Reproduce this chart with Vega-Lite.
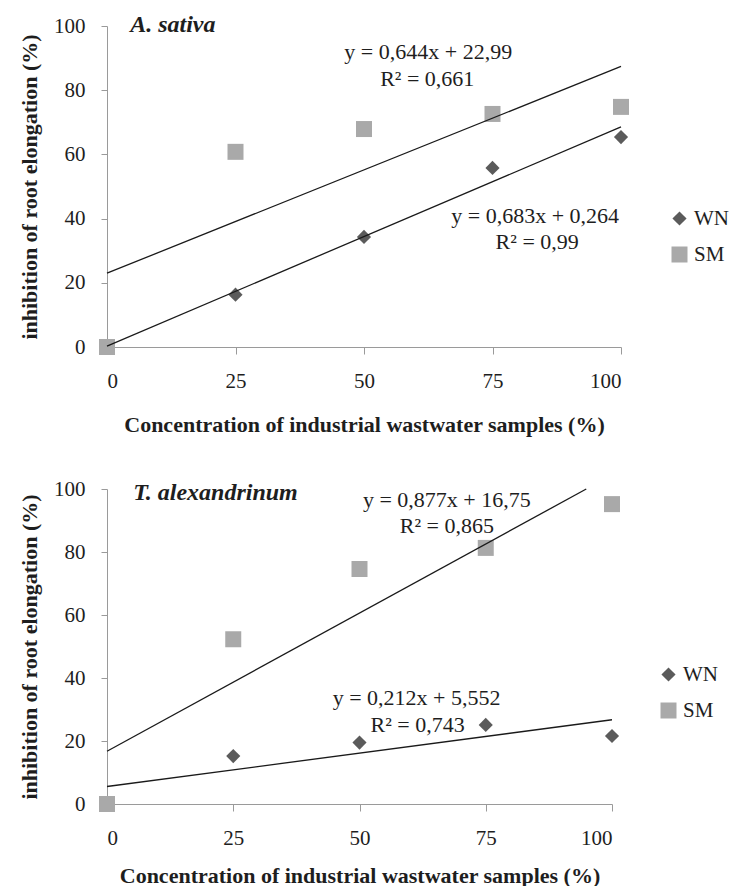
{
  "$schema": "https://vega.github.io/schema/vega-lite/v6.json",
  "background": "white",
  "padding": {"left": 18, "top": 13, "right": 0, "bottom": 0},
  "config": {
    "font": "Times New Roman, Liberation Serif, DejaVu Serif, serif",
    "view": {"stroke": null},
    "axis": {
      "grid": false,
      "domainColor": "#9a9a9a",
      "tickColor": "#9a9a9a",
      "labelFont": "Times New Roman, Liberation Serif, DejaVu Serif, serif",
      "labelFontSize": 21,
      "labelColor": "#1e1e1e",
      "titleFont": "Times New Roman, Liberation Serif, DejaVu Serif, serif",
      "titleFontSize": 22,
      "titleFontWeight": "bold",
      "titleColor": "#1e1e1e"
    },
    "axisX": {"tickSize": 7, "labelPadding": 16, "titlePadding": 23},
    "axisY": {"tickSize": 6, "labelPadding": 16, "titlePadding": 12},
    "legend": {"labelFont": "Times New Roman, Liberation Serif, DejaVu Serif, serif", "labelFontSize": 21, "labelColor": "#1e1e1e"}
  },
  "datasets": {
    "points": [
      {"panel": "A", "series": "WN", "x": 0, "y": 0},
      {"panel": "A", "series": "WN", "x": 25, "y": 16.3},
      {"panel": "A", "series": "WN", "x": 50, "y": 34.3},
      {"panel": "A", "series": "WN", "x": 75, "y": 55.8},
      {"panel": "A", "series": "WN", "x": 100, "y": 65.4},
      {"panel": "A", "series": "SM", "x": 0, "y": 0},
      {"panel": "A", "series": "SM", "x": 25, "y": 60.8},
      {"panel": "A", "series": "SM", "x": 50, "y": 67.9},
      {"panel": "A", "series": "SM", "x": 75, "y": 72.6},
      {"panel": "A", "series": "SM", "x": 100, "y": 74.8},
      {"panel": "T", "series": "WN", "x": 0, "y": 0},
      {"panel": "T", "series": "WN", "x": 25, "y": 15.2},
      {"panel": "T", "series": "WN", "x": 50, "y": 19.5},
      {"panel": "T", "series": "WN", "x": 75, "y": 25.1},
      {"panel": "T", "series": "WN", "x": 100, "y": 21.6},
      {"panel": "T", "series": "SM", "x": 0, "y": 0},
      {"panel": "T", "series": "SM", "x": 25, "y": 52.3},
      {"panel": "T", "series": "SM", "x": 50, "y": 74.6},
      {"panel": "T", "series": "SM", "x": 75, "y": 81.3},
      {"panel": "T", "series": "SM", "x": 100, "y": 95.2}
    ],
    "trends": [
      {"panel": "A", "series": "WN", "x": 0, "y": 0.264},
      {"panel": "A", "series": "WN", "x": 100, "y": 68.56},
      {"panel": "A", "series": "SM", "x": 0, "y": 22.99},
      {"panel": "A", "series": "SM", "x": 100, "y": 87.39},
      {"panel": "T", "series": "WN", "x": 0, "y": 5.552},
      {"panel": "T", "series": "WN", "x": 100, "y": 26.75},
      {"panel": "T", "series": "SM", "x": 0, "y": 16.75},
      {"panel": "T", "series": "SM", "x": 94.9, "y": 100}
    ],
    "equations": [
      {"panel": "A", "text": "y = 0,644x + 22,99", "x": 62.5, "y": 91.9},
      {"panel": "A", "text": "R² = 0,661", "x": 62.3, "y": 83.5},
      {"panel": "A", "text": "y = 0,683x + 0,264", "x": 83.3, "y": 40.8},
      {"panel": "A", "text": "R² = 0,99", "x": 83.7, "y": 32.7},
      {"panel": "T", "text": "y = 0,877x + 16,75", "x": 67.3, "y": 96.5},
      {"panel": "T", "text": "R² = 0,865", "x": 67.3, "y": 88.3},
      {"panel": "T", "text": "y = 0,212x + 5,552", "x": 61.3, "y": 33.7},
      {"panel": "T", "text": "R² = 0,743", "x": 61.5, "y": 25.1}
    ],
    "species": [
      {"panel": "A", "text": "A. sativa", "x": 4.5, "y": 100.3},
      {"panel": "T", "text": "T. alexandrinum", "x": 5.2, "y": 98.7}
    ]
  },
  "resolve": {"legend": {"color": "independent", "shape": "independent", "size": "independent"}},
  "spacing": 43,
  "vconcat": [
    {
      "width": 514,
      "height": 321,
      "layer": [
        {
          "data": {"name": "points"},
          "transform": [{"filter": "datum.panel == 'A'"}],
          "mark": {"type": "point", "filled": true, "opacity": 1},
          "encoding": {
            "x": {"field": "x", "type": "quantitative", "scale": {"domain": [0, 100], "nice": false}, "axis": {"values": [0, 25, 50, 75, 100], "title": "Concentration of industrial wastwater samples (%)"}},
            "y": {"field": "y", "type": "quantitative", "scale": {"domain": [0, 100], "nice": false}, "axis": {"values": [0, 20, 40, 60, 80, 100], "title": "inhibition of root elongation (%)"}},
            "color": {"field": "series", "type": "nominal", "scale": {"domain": ["WN", "SM"], "range": ["#5b5b5b", "#a9a9a9"]}, "legend": {"title": null, "orient": "none", "legendX": 562, "legendY": 182, "symbolSize": 130, "rowPadding": 14, "padding": 0, "labelOffset": 4}},
            "shape": {"field": "series", "type": "nominal", "scale": {"domain": ["WN", "SM"], "range": ["diamond", "square"]}, "legend": {"title": null, "orient": "none", "legendX": 562, "legendY": 182, "symbolSize": 130, "rowPadding": 14, "padding": 0, "labelOffset": 4}},
            "size": {"field": "series", "type": "nominal", "scale": {"domain": ["WN", "SM"], "range": [200, 256]}, "legend": null}
          }
        },
        {
          "data": {"name": "trends"},
          "transform": [{"filter": "datum.panel == 'A'"}],
          "mark": {"type": "line", "color": "#1a1a1a", "strokeWidth": 1.3},
          "encoding": {
            "x": {"field": "x", "type": "quantitative"},
            "y": {"field": "y", "type": "quantitative"},
            "detail": {"field": "series"}
          }
        },
        {
          "data": {"name": "equations"},
          "transform": [{"filter": "datum.panel == 'A'"}],
          "mark": {"type": "text", "font": "Times New Roman, Liberation Serif, DejaVu Serif, serif", "fontSize": 22, "color": "#1e1e1e", "align": "center", "baseline": "middle"},
          "encoding": {
            "x": {"field": "x", "type": "quantitative"},
            "y": {"field": "y", "type": "quantitative"},
            "text": {"field": "text"}
          }
        },
        {
          "data": {"name": "species"},
          "transform": [{"filter": "datum.panel == 'A'"}],
          "mark": {"type": "text", "font": "Times New Roman, Liberation Serif, DejaVu Serif, serif", "fontSize": 24, "fontWeight": "bold", "fontStyle": "italic", "color": "#1e1e1e", "align": "left", "baseline": "middle"},
          "encoding": {
            "x": {"field": "x", "type": "quantitative"},
            "y": {"field": "y", "type": "quantitative"},
            "text": {"field": "text"}
          }
        }
      ]
    },
    {
      "width": 505,
      "height": 315,
      "layer": [
        {
          "data": {"name": "points"},
          "transform": [{"filter": "datum.panel == 'T'"}],
          "mark": {"type": "point", "filled": true, "opacity": 1},
          "encoding": {
            "x": {"field": "x", "type": "quantitative", "scale": {"domain": [0, 100], "nice": false}, "axis": {"values": [0, 25, 50, 75, 100], "title": "Concentration of industrial wastwater samples (%)", "titlePadding": 17}},
            "y": {"field": "y", "type": "quantitative", "scale": {"domain": [0, 100], "nice": false}, "axis": {"values": [0, 20, 40, 60, 80, 100], "title": "inhibition of root elongation (%)"}},
            "color": {"field": "series", "type": "nominal", "scale": {"domain": ["WN", "SM"], "range": ["#5b5b5b", "#a9a9a9"]}, "legend": {"title": null, "orient": "none", "legendX": 551, "legendY": 175, "symbolSize": 130, "rowPadding": 14, "padding": 0, "labelOffset": 4}},
            "shape": {"field": "series", "type": "nominal", "scale": {"domain": ["WN", "SM"], "range": ["diamond", "square"]}, "legend": {"title": null, "orient": "none", "legendX": 551, "legendY": 175, "symbolSize": 130, "rowPadding": 14, "padding": 0, "labelOffset": 4}},
            "size": {"field": "series", "type": "nominal", "scale": {"domain": ["WN", "SM"], "range": [200, 256]}, "legend": null}
          }
        },
        {
          "data": {"name": "trends"},
          "transform": [{"filter": "datum.panel == 'T'"}],
          "mark": {"type": "line", "color": "#1a1a1a", "strokeWidth": 1.3},
          "encoding": {
            "x": {"field": "x", "type": "quantitative"},
            "y": {"field": "y", "type": "quantitative"},
            "detail": {"field": "series"}
          }
        },
        {
          "data": {"name": "equations"},
          "transform": [{"filter": "datum.panel == 'T'"}],
          "mark": {"type": "text", "font": "Times New Roman, Liberation Serif, DejaVu Serif, serif", "fontSize": 22, "color": "#1e1e1e", "align": "center", "baseline": "middle"},
          "encoding": {
            "x": {"field": "x", "type": "quantitative"},
            "y": {"field": "y", "type": "quantitative"},
            "text": {"field": "text"}
          }
        },
        {
          "data": {"name": "species"},
          "transform": [{"filter": "datum.panel == 'T'"}],
          "mark": {"type": "text", "font": "Times New Roman, Liberation Serif, DejaVu Serif, serif", "fontSize": 24, "fontWeight": "bold", "fontStyle": "italic", "color": "#1e1e1e", "align": "left", "baseline": "middle"},
          "encoding": {
            "x": {"field": "x", "type": "quantitative"},
            "y": {"field": "y", "type": "quantitative"},
            "text": {"field": "text"}
          }
        }
      ]
    }
  ]
}
